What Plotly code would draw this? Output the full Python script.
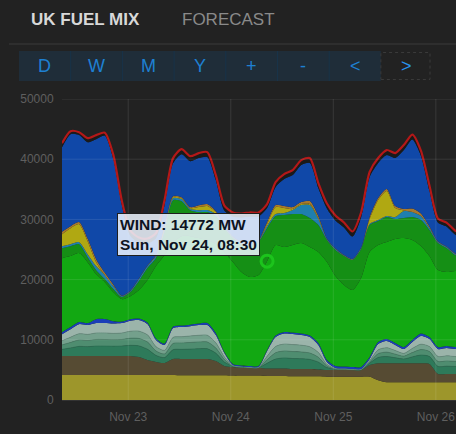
import plotly.graph_objects as go
import pandas as pd

# ---------------- data ----------------
times = pd.date_range("2024-11-22 08:30", periods=48, freq="2h")

nuclear = [4150, 4150, 4150, 4150, 4150, 4150, 4150, 4150, 4150, 4150, 4150, 4150, 4150, 4150,
           4100, 4100, 4100, 4100, 4100, 4100, 4050, 4050, 4050, 4050, 4000, 4000, 4000,
           3950, 3950, 3950, 3950, 3880, 3880, 3880, 3880, 3880, 3880, 3300,
           2950, 2950, 2950, 2950, 2950, 2950, 2950, 2950, 2950, 2950]
biomass = [3160, 3160, 3160, 3160, 3160, 3160, 3160, 3160, 3160, 2990, 2490, 2160, 2000, 2660,
           2710, 2710, 2710, 2710, 2380, 1550, 1430, 1350, 1270, 1270, 1230, 1230, 1230,
           1200, 1200, 1200, 1120, 1100, 1100, 1100, 1100, 1100, 1930, 2800,
           3150, 3150, 3150, 3150, 3150, 3030, 1370, 1370, 1370, 1370]
pumped = [1100, 1340, 1590, 1550, 1640, 1640, 1620, 1640, 1770, 1850, 1790, 1100, 900, 1550,
          1600, 1640, 1700, 1700, 1300, 650, 100, 50, 50, 50, 870, 1570, 1750,
          1740, 1700, 1590, 1220, 400, 100, 80, 50, 50, 300, 960,
          1110, 910, 710, 1060, 1360, 1250, 1250, 1300, 1250, 1250]
hydro = [730, 900, 1060, 1030, 1100, 1100, 1080, 1100, 1180, 1230, 1200, 730, 600, 1030,
         1060, 1100, 1130, 1130, 860, 430, 70, 30, 30, 30, 580, 1050, 1160,
         1160, 1130, 1060, 810, 270, 70, 50, 35, 35, 200, 640,
         740, 610, 470, 710, 910, 830, 830, 860, 830, 830]
ict_a = [700, 880, 1040, 1010, 1080, 1090, 1060, 1080, 1160, 1220, 1190, 720, 600, 1010,
         1040, 1080, 1110, 1120, 850, 420, 70, 30, 30, 30, 570, 1040, 1150,
         1150, 1120, 1050, 800, 270, 70, 50, 35, 35, 200, 630,
         730, 600, 460, 700, 900, 820, 820, 850, 820, 820]
ict_b = [1090, 1340, 1600, 1540, 1640, 1640, 1620, 1640, 1760, 1840, 1790, 1100, 890, 1540,
         1600, 1640, 1690, 1690, 1300, 650, 90, 50, 50, 50, 880, 1560, 1750,
         1750, 1690, 1600, 1230, 390, 100, 70, 50, 50, 300, 960,
         1110, 910, 720, 1050, 1350, 1240, 1240, 1300, 1240, 1240]
storage = [340, 340, 340, 330, 660, 660, 410, 250, 250, 250, 250, 250, 240, 250,
           250, 250, 250, 330, 330, 160, 170, 170, 170, 170, 160, 250, 250,
           250, 250, 250, 330, 330, 330, 330, 330, 330, 330, 330,
           330, 330, 330, 340, 420, 330, 330, 330, 330, 330]
wind = [12290, 11790, 11460, 10130, 7480, 6150, 4820, 3740, 3820, 4730, 7060, 12040, 14700, 14030,
        14860, 14700, 14200, 13790, 14780, 16610, 16940, 15530, 14780, 15110, 14772, 15040, 14110,
        14540, 15030, 14700, 15110, 16280, 14950, 13540, 12790, 14780, 17440, 16120,
        16110, 17270, 18110, 16610, 14530, 13460, 12790, 12290, 12630, 12790]
embedded_wind = [1660, 1660, 1490, 830, 660, 500, 500, 330, 670, 1500, 2000, 1330, 3820, 6980,
                 5810, 4320, 4320, 4650, 4650, 3990, 3990, 4650, 5150, 5480, 5500, 4810, 5320,
                 5140, 4810, 4820, 4490, 3660, 4320, 4820, 4980, 4820, 4490, 3980,
                 4160, 3320, 3320, 3820, 4320, 4320, 4490, 3990, 2650, 2000]
hydro_b = [330, 330, 330, 500, 670, 660, 500, 160, 160, 330, 330, 330, 340, 330,
           340, 170, 330, 330, 330, 170, 160, 170, 170, 170, 330, 330, 330,
           670, 1500, 2160, 990, 160, 160, 80, 90, 170, 160, 170,
           160, 340, 1160, 830, 660, 330, 160, 160, 170, 160]
solar = [1990, 2660, 2990, 2160, 660, 0, 0, 0, 0, 0, 0, 0, 330, 170,
         160, 160, 500, 660, 340, 0, 0, 0, 0, 0, 330, 1170, 830,
         170, 170, 170, 170, 0, 0, 0, 0, 0, 830, 3320,
         4150, 1490, 90, 0, 0, 0, 0, 0, 0, 0]
other = [420, 330, 340, 420, 500, 410, 250, 80, 80, 80, 80, 170, 330, 160,
         170, 170, 330, 340, 160, 80, 80, 80, 80, 90, 340, 330, 330,
         330, 330, 490, 330, 90, 90, 90, 80, 80, 340, 330,
         340, 330, 250, 580, 410, 250, 80, 80, 90, 80]
gas = [14030, 15280, 14450, 16020, 19930, 22760, 20930, 15120, 9140, 5980, 3660, 2820, 3490, 5490,
       7140, 7640, 7810, 7800, 5150, 2660, 3320, 4160, 4650, 3980, 2320, 2990, 4490,
       5310, 6140, 6320, 4650, 4980, 4650, 4570, 3740, 4990, 6640, 5820,
       5640, 7980, 9800, 11460, 9630, 5980, 3160, 3320, 3150, 2990]
coal_oil = [670, 500, 490, 670, 670, 490, 660, 660, 830, 830, 830, 830, 830, 830,
            830, 830, 830, 830, 830, 830, 670, 660, 670, 670, 670, 830, 830,
            830, 830, 830, 830, 830, 830, 830, 830, 830, 830, 830,
            840, 830, 830, 830, 840, 830, 660, 670, 670, 660]

y_ticks = [0, 10000, 20000, 30000, 40000, 50000]
day_ticks = ["2024-11-23", "2024-11-24", "2024-11-25", "2024-11-26"]
button_labels = ["D", "W", "M", "Y", "+", "-", "&lt;", "&gt;"]
hover_index = 24

# ---------------- figure ----------------
W, H = 456, 434
L, R, T, B = 62, 0, 99, 34
PW, PH = W - L - R, H - T - B


def px(x):
    return (x - L) / PW


def py(y):
    return (H - B - y) / PH


layers = [
    ("NUCLEAR", nuclear, "#9d962b", 0, None),
    ("BIOMASS", biomass, "#564b33", 0, None),
    ("PUMPED", pumped, "#2e7a5a", 0.7, "#286a4f"),
    ("HYDRO", hydro, "#4f8d70", 0.7, "#447a61"),
    ("INTERCONNECTOR A", ict_a, "#74a08c", 0.7, "#62897a"),
    ("INTERCONNECTOR B", ict_b, "#9bb4aa", 0, None),
    ("STORAGE", storage, "#1a3db8", 0, None),
    ("WIND", wind, "#12a812", 0, None),
    ("EMBEDDED WIND", embedded_wind, "#158f15", 0, None),
    ("HYDRO B", hydro_b, "#1f7fae", 0, None),
    ("SOLAR", solar, "#b0a812", 0, None),
    ("OTHER", other, "#a8782c", 0, None),
    ("GAS", gas, "#1048a8", 0, None),
    ("COAL/OIL", coal_oil, "#1a1a1a", 2.2, "#b41818"),
]

fig = go.Figure()
for name, vals, col, lw, lc in layers:
    fig.add_trace(go.Scatter(
        x=times, y=vals, name=name, mode="lines", stackgroup="one",
        fillcolor=col,
        line=dict(width=lw, color=lc if lc else col, shape="spline", smoothing=0.7),
        hoverinfo="skip", showlegend=False))

# hover marker on the wind layer
wind_pos = [n for n, *_ in layers].index("WIND")
cum = sum(layers[k][1][hover_index] for k in range(wind_pos + 1))
fig.add_trace(go.Scatter(
    x=[times[hover_index]], y=[cum], mode="markers", showlegend=False,
    marker=dict(symbol="circle-open", size=12, color="#1cc41c",
                line=dict(width=3, color="#1cc41c"))))

shapes = []
grid_col = "rgba(255,255,255,0.10)"
for v in y_ticks[1:]:
    shapes.append(dict(type="line", xref="paper", x0=0, x1=1, yref="y", y0=v, y1=v,
                       line=dict(color=grid_col, width=1), layer="above"))
for d in day_ticks:
    shapes.append(dict(type="line", xref="x", x0=d, x1=d, yref="paper", y0=0, y1=1,
                       line=dict(color=grid_col, width=1), layer="above"))

# header separator
shapes.append(dict(type="line", xref="paper", yref="paper", x0=px(9), x1=px(456),
                   y0=py(44), y1=py(44), line=dict(color="#3a3a3a", width=1)))
# button bar
bx0, bw = 19, 51.7
shapes.append(dict(type="rect", xref="paper", yref="paper", x0=px(bx0), x1=px(bx0 + 7 * bw),
                   y0=py(81), y1=py(51), fillcolor="#1f2d39", line=dict(width=0)))
for k in range(1, 7):
    xx = bx0 + k * bw
    shapes.append(dict(type="line", xref="paper", yref="paper", x0=px(xx), x1=px(xx),
                       y0=py(81), y1=py(51), line=dict(color="#183349", width=1)))
shapes.append(dict(type="rect", xref="paper", yref="paper", x0=px(bx0 + 7 * bw), x1=px(430),
                   y0=py(79.5), y1=py(52.5), line=dict(color="#3a3a3a", width=1, dash="dot")))

annotations = [
    dict(text="<b>UK FUEL MIX</b>", xref="paper", yref="paper", x=px(29), y=py(19),
         xanchor="left", yanchor="middle", showarrow=False,
         font=dict(size=17, color="#d8d8d8", family="Liberation Sans")),
    dict(text="FORECAST", xref="paper", yref="paper", x=px(180), y=py(19),
         xanchor="left", yanchor="middle", showarrow=False,
         font=dict(size=17, color="#8a8a8a", family="Liberation Sans")),
]
for k, lab in enumerate(button_labels):
    annotations.append(dict(text=lab, xref="paper", yref="paper", x=px(bx0 + bw * (k + 0.5)),
                            y=py(66), xanchor="center", yanchor="middle", showarrow=False,
                            font=dict(size=18, color="#2894f0" if k == 7 else "#1e80d2",
                                      family="Liberation Sans")))

t = times[hover_index]
tip = f"<b>WIND: {wind[hover_index]} MW</b><br><b>{t.strftime('%a, %b %d, %H:%M')}</b>"
annotations.append(dict(text=tip, xref="paper", yref="paper", x=px(117), y=py(213),
                        xanchor="left", yanchor="top", showarrow=False, align="left",
                        bgcolor="rgba(238,244,255,0.86)", bordercolor="#1e1e1e",
                        borderwidth=1, borderpad=2,
                        font=dict(size=15.5, color="#0d1321", family="Liberation Sans")))

fig.update_layout(
    width=W, height=H, margin=dict(l=L, r=R, t=T, b=B, pad=0),
    paper_bgcolor="#222222", plot_bgcolor="#222222",
    shapes=shapes, annotations=annotations, showlegend=False, hovermode=False,
    font=dict(family="Liberation Sans", color="#5f5f5f", size=12),
)
fig.update_xaxes(
    type="date", range=["2024-11-22 08:30", "2024-11-26 04:43"],
    tickvals=day_ticks, tickformat="%b %d", showgrid=False, zeroline=False,
    ticks="outside", ticklen=6, tickcolor="rgba(0,0,0,0)",
    tickfont=dict(size=12, color="#5f5f5f"), showline=True, linecolor="#333333", linewidth=1,
    ticklabeloverflow="allow", fixedrange=True)
fig.update_yaxes(
    range=[0, 50000], tickvals=y_ticks, tickformat="d", showgrid=False, zeroline=False,
    ticks="outside", ticklen=5, tickcolor="rgba(0,0,0,0)",
    tickfont=dict(size=12, color="#5f5f5f"), fixedrange=True)

fig.write_html("out.html")
